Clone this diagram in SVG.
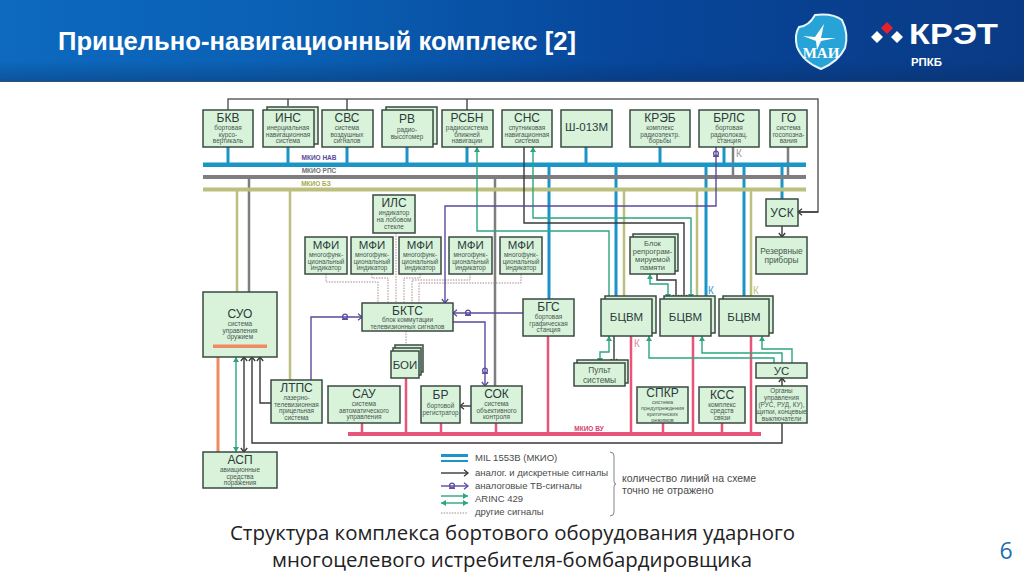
<svg xmlns="http://www.w3.org/2000/svg" width="1024" height="574" viewBox="0 0 1024 574">
<defs>
<style>
text{font-family:"Liberation Sans",Arial,sans-serif}
.b{fill:#d8f3da;stroke:#3a4a42;stroke-width:1.5}
.t{font-size:12px;fill:#2c3a3a;text-anchor:middle}
.s{font-size:6.400px;fill:#4a5652;text-anchor:middle}
.m{font-size:11.500px;fill:#2c3a3a;text-anchor:middle}
.p{font-size:7.500px;fill:#4a5550;text-anchor:middle}
.r{font-size:8.400px;fill:#4a5550;text-anchor:middle}
.c{fill:none;stroke-linejoin:miter}
.nav{stroke:#1b94c8;stroke-width:3}
.rps{stroke:#7f7d80;stroke-width:2.500}
.bz{stroke:#bcc07e;stroke-width:2.500}
.vu{stroke:#e8557a;stroke-width:2.500}
.blk{stroke:#383838;stroke-width:1.400}
.pur{stroke:#5a4a9c;stroke-width:1.400}
.grn{stroke:#2ba67e;stroke-width:1.400}
.dot{stroke:#a88a8a;stroke-width:1;stroke-dasharray:1.5 1.2}
.bus{font-size:6.500px;font-weight:bold;text-anchor:middle}
.k{font-size:10px}
.lg{font-size:9.500px;fill:#4a4a4a}
.lr{font-size:10.500px;fill:#4a4a4a}
</style>
<linearGradient id="hd" x1="0" y1="0" x2="1" y2="0">
<stop offset="0" stop-color="#0d6abf"/><stop offset="0.3" stop-color="#0a5fb3"/><stop offset="0.62" stop-color="#07469a"/><stop offset="1" stop-color="#0a3a85"/>
</linearGradient>
<linearGradient id="hv" x1="0" y1="0" x2="0" y2="1">
<stop offset="0.75" stop-color="#0a2a5a" stop-opacity="0"/><stop offset="1" stop-color="#0a2a5a" stop-opacity="0.35"/>
</linearGradient>
<marker id="ab" markerUnits="userSpaceOnUse" markerWidth="7" markerHeight="8" refX="5.5" refY="4" orient="auto-start-reverse"><path d="M1.5,0.8 L5.5,4 L1.5,7.2" fill="none" stroke="#383838" stroke-width="1.3"/></marker>
<marker id="ap" markerUnits="userSpaceOnUse" markerWidth="7" markerHeight="8" refX="5.5" refY="4" orient="auto-start-reverse"><path d="M1.5,0.8 L5.5,4 L1.5,7.2" fill="none" stroke="#5a4a9c" stroke-width="1.3"/></marker>
<marker id="ag" markerUnits="userSpaceOnUse" markerWidth="7" markerHeight="6" refX="5" refY="3" orient="auto-start-reverse"><path d="M0,0 L5,3 L0,6 Z" fill="#2ba67e"/></marker>
<g id="sym"><circle cx="0" cy="-0.5" r="2.400" fill="none" stroke="#5a4a9c" stroke-width="1.300"/><path d="M-3,2.200 H3" stroke="#5a4a9c" stroke-width="1.500"/></g>
</defs>

<g id="header">
<rect width="1024" height="81" fill="url(#hd)"/>
<rect width="1024" height="81" fill="url(#hv)"/>
<rect y="81" width="1024" height="1" fill="#33506e"/>
<text x="58" y="50" font-size="25" font-weight="bold" fill="#fff" textLength="518" lengthAdjust="spacingAndGlyphs">Прицельно-навигационный комплекс [2]</text>
<path d="M815,15 Q833,13 842,20 Q849,34 845,48 Q838,62 821,69 Q803,62 797,47 Q794,35 799,27 Q809,26 815,15 Z" fill="#27a3d8" stroke="#e8f4fa" stroke-width="2"/>
<path d="M803,36 L815,37 L824,24 L821,38 L836,38 L821,41 L817,50 L816,41 Z" fill="#fff"/>
<text x="821" y="58" font-size="15" font-weight="bold" fill="#fff" text-anchor="middle" style="font-family:'Liberation Serif',serif">МАИ</text>
<path d="M871,37 L877,31 L883,37 L877,43 Z M891,37 L897,31 L903,37 L897,43 Z" fill="#fff"/>
<path d="M881,28 L887,22 L893,28 L887,34 Z" fill="#e8202c"/>
<text x="909" y="44" font-size="30" font-weight="bold" fill="#fff" textLength="89" lengthAdjust="spacingAndGlyphs">КРЭТ</text>
<text x="911" y="66" font-size="10" font-weight="bold" fill="#fff" textLength="31" lengthAdjust="spacingAndGlyphs">РПКБ</text>
</g>

<g id="connectors">
<path class="c" d="M228,110 V99 H818 V212 H798" stroke="#606060" stroke-width="1.500" fill="none"/>
<path class="c blk" d="M818,212 H798" marker-end="url(#ab)"/>
<path class="c" d="M288,106 V99 M347,110 V99 M467,110 V99" stroke="#444" stroke-width="1.400"/>

<path class="c dot" d="M326,274 V282 H378 V303 M372,274 V278 H388 V303 M396,233 V303 M420,274 V278 H404 V303 M470,274 V280 H412 V303 M521,274 V283 H419 V303 M406,331 V351"/>

<path class="c rps" d="M249,177 V292 M495,177 V386 M733,147 V177 M788,147 V177"/>
<path class="c bz" d="M237,190 V292 M290,190 V380 M624,190 V299 M697,190 V299 M751,190 V299"/>
<path class="c nav" d="M228,147 V165 M288,147 V165 M347,147 V165 M407,147 V165 M467,147 V165 M586,147 V165 M660,147 V165 M724,147 V165 M549,165 V299 M616,165 V299 M706,165 V299 M744,165 V299 M782,165 V199"/>
<path class="c vu" d="M362,423 V434 M406,378 V434 M441,423 V434 M496,423 V434 M548,336 V434 M631,336 V434 M663,423 V434 M693,336 V434 M722,423 V434 M751,336 V434"/>
<rect x="203" y="162.500" width="603" height="4.500" fill="#1b94c8"/>
<rect x="203" y="175" width="603" height="4" fill="#7f7d80"/>
<rect x="203" y="187.500" width="603" height="4" fill="#bcc07e"/>
<rect x="348" y="432" width="413" height="4" fill="#e8557a"/>

<path class="c" d="M218,346 V452" stroke="#f08a64" stroke-width="3"/>
<path class="c grn" d="M477,147 V231 H609 V299" marker-start="url(#ag)"/>
<path class="c grn" d="M533,147 V218 H691 V299" marker-start="url(#ag)" marker-end="url(#ag)"/>
<path class="c grn" d="M650,274 V284 H668 V299" marker-start="url(#ag)" marker-end="url(#ag)"/>
<path class="c grn" d="M609,336 V352 H600 V363" marker-start="url(#ag)" marker-end="url(#ag)"/>
<path class="c grn" d="M649,336 V358 H774 V363" marker-start="url(#ag)"/>
<path class="c grn" d="M702,336 V353 H782 V363" marker-start="url(#ag)"/>
<path class="c grn" d="M762,336 V349 H792 V363" marker-start="url(#ag)"/>
<path class="c grn" d="M236,357 V452" marker-start="url(#ag)" marker-end="url(#ag)"/>

<path class="c blk" d="M524,147 V223 H684 V299" marker-end="url(#ab)"/>
<path class="c blk" d="M657,274 V280 H676 V299" marker-end="url(#ab)"/>
<path class="c blk" d="M614,336 V363" marker-end="url(#ab)"/>
<path class="c blk" d="M782,226 V237" marker-end="url(#ab)"/>
<path class="c blk" d="M782,386 V378" marker-end="url(#ab)"/>
<path class="c blk" d="M244,357 V452" marker-start="url(#ab)" marker-end="url(#ab)"/>
<path class="c blk" d="M782,423 V443 H252 V357" marker-end="url(#ab)"/>
<path class="c blk" d="M271,403 H260 V357" marker-end="url(#ab)"/>
<path class="c blk" d="M471,406 H460" marker-end="url(#ab)"/>

<path class="c pur" d="M716,147 V206 H445 V303" marker-end="url(#ap)"/>
<path class="c pur" d="M523,313 H453" marker-end="url(#ap)"/>
<path class="c pur" d="M453,322 H485 V386" marker-end="url(#ap)"/>
<path class="c pur" d="M311,380 V317 H362" marker-end="url(#ap)"/>
<use href="#sym" x="716" y="154"/>
<use href="#sym" x="468" y="313"/>
<use href="#sym" x="485" y="371"/>
<use href="#sym" x="345" y="317"/>
</g>

<g id="bus-labels">
<text class="bus" x="319" y="160" fill="#5a4a9c">МКИО НАВ</text>
<text class="bus" x="319" y="173" fill="#6f6f70">МКИО РПС</text>
<text class="bus" x="316" y="186" fill="#a8a94a">МКИО БЗ</text>
<text class="bus" x="589" y="431" fill="#d8406a">МКИО ВУ</text>
<text class="k" x="736" y="157" fill="#9a9a9a">К</text>
<text class="k" x="708" y="294" fill="#3a9ac8">К</text>
<text class="k" x="753" y="294" fill="#bcc07e">К</text>
<text class="k" x="634" y="347" fill="#e08aa8">К</text>
</g>

<g id="n-bkv"><rect class="b" x="203" y="110" width="50" height="37"/><text class="t" x="228" y="122">БКВ</text><text class="s" x="228" y="130">бортовая</text><text class="s" x="228" y="136.500">курсо-</text><text class="s" x="228" y="143">вертикаль</text></g>
<g id="n-ins"><rect class="b" x="267" y="107" width="51" height="37"/><rect class="b" x="263" y="110" width="51" height="37"/><text class="t" x="288" y="122">ИНС</text><text class="s" x="288" y="130">инерциальная</text><text class="s" x="288" y="136.500">навигационная</text><text class="s" x="288" y="143">система</text></g>
<g id="n-svs"><rect class="b" x="322" y="110" width="51" height="37"/><text class="t" x="347" y="122">СВС</text><text class="s" x="347" y="130">система</text><text class="s" x="347" y="136.500">воздушных</text><text class="s" x="347" y="143">сигналов</text></g>
<g id="n-rv"><rect class="b" x="386" y="107" width="51" height="37"/><rect class="b" x="382" y="110" width="51" height="37"/><text class="t" x="407" y="123">РВ</text><text class="s" x="407" y="132">радио-</text><text class="s" x="407" y="139">высотомер</text></g>
<g id="n-rsbn"><rect class="b" x="442" y="110" width="51" height="37"/><text class="t" x="467" y="122">РСБН</text><text class="s" x="467" y="130">радиосистема</text><text class="s" x="467" y="136.500">ближней</text><text class="s" x="467" y="143">навигации</text></g>
<g id="n-sns"><rect class="b" x="502" y="110" width="50" height="37"/><text class="t" x="527" y="122">СНС</text><text class="s" x="527" y="130">спутниковая</text><text class="s" x="527" y="136.500">навигационная</text><text class="s" x="527" y="143">система</text></g>
<g id="n-sh"><rect class="b" x="561" y="110" width="51" height="37"/><text class="m" x="586.500" y="131">Ш-013М</text></g>
<g id="n-kreb"><rect class="b" x="630" y="110" width="60" height="37"/><text class="t" x="660" y="122">КРЭБ</text><text class="s" x="660" y="130">комплекс</text><text class="s" x="660" y="136.500">радиоэлектр.</text><text class="s" x="660" y="143">борьбы</text></g>
<g id="n-brls"><rect class="b" x="699" y="110" width="60" height="37"/><text class="t" x="729" y="122">БРЛС</text><text class="s" x="729" y="130">бортовая</text><text class="s" x="729" y="136.500">радиолокац.</text><text class="s" x="729" y="143">станция</text></g>
<g id="n-go"><rect class="b" x="770" y="110" width="37" height="37"/><text class="t" x="788.500" y="122">ГО</text><text class="s" x="788.500" y="130">система</text><text class="s" x="788.500" y="136.500">госопозна-</text><text class="s" x="788.500" y="143">вания</text></g>

<g id="n-ils"><rect class="b" x="373" y="195" width="42" height="38"/><text class="t" x="394" y="207">ИЛС</text><text class="s" x="394" y="215">индикатор</text><text class="s" x="394" y="222">на лобовом</text><text class="s" x="394" y="229">стекле</text></g>
<g id="n-mfi1"><rect class="b" x="305" y="237" width="42" height="37"/><text class="m" x="326" y="249">МФИ</text><text class="s" x="326" y="257">многофунк-</text><text class="s" x="326" y="263.500">циональный</text><text class="s" x="326" y="270">индикатор</text></g>
<g id="n-mfi2"><rect class="b" x="351" y="237" width="42" height="37"/><text class="m" x="372" y="249">МФИ</text><text class="s" x="372" y="257">многофунк-</text><text class="s" x="372" y="263.500">циональный</text><text class="s" x="372" y="270">индикатор</text></g>
<g id="n-mfi3"><rect class="b" x="399" y="237" width="42" height="37"/><text class="m" x="420" y="249">МФИ</text><text class="s" x="420" y="257">многофунк-</text><text class="s" x="420" y="263.500">циональный</text><text class="s" x="420" y="270">индикатор</text></g>
<g id="n-mfi4"><rect class="b" x="449" y="237" width="43" height="37"/><text class="m" x="470.500" y="249">МФИ</text><text class="s" x="470.500" y="257">многофунк-</text><text class="s" x="470.500" y="263.500">циональный</text><text class="s" x="470.500" y="270">индикатор</text></g>
<g id="n-mfi5"><rect class="b" x="500" y="237" width="42" height="37"/><text class="m" x="521" y="249">МФИ</text><text class="s" x="521" y="257">многофунк-</text><text class="s" x="521" y="263.500">циональный</text><text class="s" x="521" y="270">индикатор</text></g>

<g id="n-blok"><rect class="b" x="633" y="234" width="45" height="37"/><rect class="b" x="630" y="237" width="45" height="37"/><text class="p" x="652.500" y="246">Блок</text><text class="p" x="652.500" y="254">репрограм-</text><text class="p" x="652.500" y="262">мируемой</text><text class="p" x="652.500" y="270">памяти</text></g>
<g id="n-usk"><rect class="b" x="766" y="199" width="32" height="27"/><text class="t" x="782" y="217">УСК</text></g>
<g id="n-rez"><rect class="b" x="756" y="237" width="51" height="37"/><text class="r" x="781.500" y="254">Резервные</text><text class="r" x="781.500" y="263">приборы</text></g>

<g id="n-suo"><rect class="b" x="203" y="292" width="74" height="65"/><text class="t" x="240" y="318">СУО</text><text class="s" x="240" y="326">система</text><text class="s" x="240" y="332.500">управления</text><text class="s" x="240" y="339">оружием</text><rect x="213" y="344.500" width="54" height="3.500" fill="#f08a64"/></g>
<g id="n-asp"><rect class="b" x="203" y="452" width="74" height="36"/><text class="t" x="240" y="464">АСП</text><text class="s" x="240" y="472">авиационные</text><text class="s" x="240" y="478.500">средства</text><text class="s" x="240" y="485">поражения</text></g>
<g id="n-ltps"><rect class="b" x="271" y="380" width="51" height="43"/><text class="t" x="296.500" y="392">ЛТПС</text><text class="s" x="296.500" y="400">лазерно-</text><text class="s" x="296.500" y="406.500">телевизионная</text><text class="s" x="296.500" y="413">прицельная</text><text class="s" x="296.500" y="419.500">система</text></g>
<g id="n-sau"><rect class="b" x="328" y="386" width="72" height="37"/><text class="t" x="364" y="398">САУ</text><text class="s" x="364" y="406">система</text><text class="s" x="364" y="412.500">автоматического</text><text class="s" x="364" y="419">управления</text></g>
<g id="n-bktc"><rect class="b" x="362" y="303" width="91" height="28"/><text class="t" x="407.500" y="314.500">БКТС</text><text class="s" x="407.500" y="322">блок коммутации</text><text class="s" x="407.500" y="328.500">телевизионных сигналов</text></g>
<g id="n-boi"><rect class="b" x="395" y="345" width="28" height="27"/><rect class="b" x="393" y="348" width="28" height="27"/><rect class="b" x="391" y="351" width="28" height="27"/><text class="m" x="405" y="369">БОИ</text></g>
<g id="n-br"><rect class="b" x="421" y="386" width="39" height="37"/><text class="t" x="440.500" y="399">БР</text><text class="s" x="440.500" y="408">бортовой</text><text class="s" x="440.500" y="415">регистратор</text></g>
<g id="n-sok"><rect class="b" x="471" y="386" width="51" height="37"/><text class="t" x="496.500" y="398">СОК</text><text class="s" x="496.500" y="406">система</text><text class="s" x="496.500" y="412.500">объективного</text><text class="s" x="496.500" y="419">контроля</text></g>
<g id="n-bgs"><rect class="b" x="523" y="299" width="51" height="37"/><text class="t" x="548.500" y="311">БГС</text><text class="s" x="548.500" y="319">бортовая</text><text class="s" x="548.500" y="325.500">графическая</text><text class="s" x="548.500" y="332">станция</text></g>
<g id="n-bcvm1"><rect class="b" x="605" y="296" width="51" height="37"/><rect class="b" x="601" y="299" width="51" height="37"/><text class="m" x="626.500" y="321">БЦВМ</text></g>
<g id="n-bcvm2"><rect class="b" x="664" y="296" width="51" height="37"/><rect class="b" x="660" y="299" width="51" height="37"/><text class="m" x="685.500" y="321">БЦВМ</text></g>
<g id="n-bcvm3"><rect class="b" x="723" y="296" width="50" height="37"/><rect class="b" x="719" y="299" width="50" height="37"/><text class="m" x="744" y="321">БЦВМ</text></g>
<g id="n-pult"><rect class="b" x="577" y="360" width="51" height="23"/><rect class="b" x="574" y="363" width="51" height="23"/><text class="r" x="599.500" y="373">Пульт</text><text class="r" x="599.500" y="382.500">системы</text></g>
<g id="n-spkr"><rect class="b" x="637" y="387" width="51" height="36"/><text class="t" x="662.500" y="397">СПКР</text><text class="s" x="662.500" y="403.500" style="font-size:5.500px">система</text><text class="s" x="662.500" y="409.500" style="font-size:5.500px">предупреждения</text><text class="s" x="662.500" y="415.500" style="font-size:5.500px">критических</text><text class="s" x="662.500" y="421.500" style="font-size:5.500px">режимов</text></g>
<g id="n-kss"><rect class="b" x="699" y="387" width="46" height="36"/><text class="t" x="722" y="398.500">КСС</text><text class="s" x="722" y="406.500">комплекс</text><text class="s" x="722" y="413">средств</text><text class="s" x="722" y="419.500">связи</text></g>
<g id="n-us"><rect class="b" x="756" y="363" width="51" height="15"/><text class="m" x="781.500" y="375">УС</text></g>
<g id="n-org"><rect class="b" x="756" y="386" width="51" height="37"/><text class="s" x="781.500" y="393">Органы</text><text class="s" x="781.500" y="400">управления</text><text class="s" x="781.500" y="407">(РУС, РУД, КУ),</text><text class="s" x="781.500" y="414">щитки, концевые</text><text class="s" x="781.500" y="421">выключатели</text></g>

<g id="legend">
<rect x="441" y="454" width="27" height="3" fill="#1b94c8"/><rect x="441" y="460" width="27" height="2" fill="#1b94c8"/>
<path class="c blk" d="M441,473 H468" marker-end="url(#ab)"/>
<path class="c pur" d="M441,486 H468" marker-end="url(#ap)"/><use href="#sym" x="452" y="486"/>
<path class="c grn" d="M441,496 H468" marker-end="url(#ag)"/>
<path class="c grn" d="M441,503 H468" marker-start="url(#ag)" marker-end="url(#ag)"/>
<path class="c dot" d="M441,513 H468"/>
<text class="lg" x="475" y="461">MIL 1553B (МКИО)</text>
<text class="lg" x="475" y="476">аналог. и дискретные сигналы</text>
<text class="lg" x="475" y="489">аналоговые ТВ-сигналы</text>
<text class="lg" x="475" y="502">ARINC 429</text>
<text class="lg" x="475" y="515">другие сигналы</text>
<path d="M610,452 Q614,452 614,456 V481 Q614,484 616,484 Q614,484 614,487 V512 Q614,516 610,516" fill="none" stroke="#666" stroke-width="0.800"/>
<text class="lr" x="622" y="482">количество линий на схеме</text>
<text class="lr" x="622" y="494">точно не отражено</text>
</g>

<g id="caption">
<text x="512.500" y="540" font-size="20" fill="#222" text-anchor="middle" style="font-family:'Open Sans',sans-serif" textLength="565" lengthAdjust="spacingAndGlyphs">Структура комплекса бортового оборудования ударного</text>
<text x="512" y="567" font-size="20" fill="#222" text-anchor="middle" style="font-family:'Open Sans',sans-serif" textLength="480" lengthAdjust="spacingAndGlyphs">многоцелевого истребителя-бомбардировщика</text>
<text x="1006" y="559" font-size="23" fill="#1c6fb5" text-anchor="middle" style="font-family:'Open Sans',sans-serif">6</text>
</g>
</svg>
